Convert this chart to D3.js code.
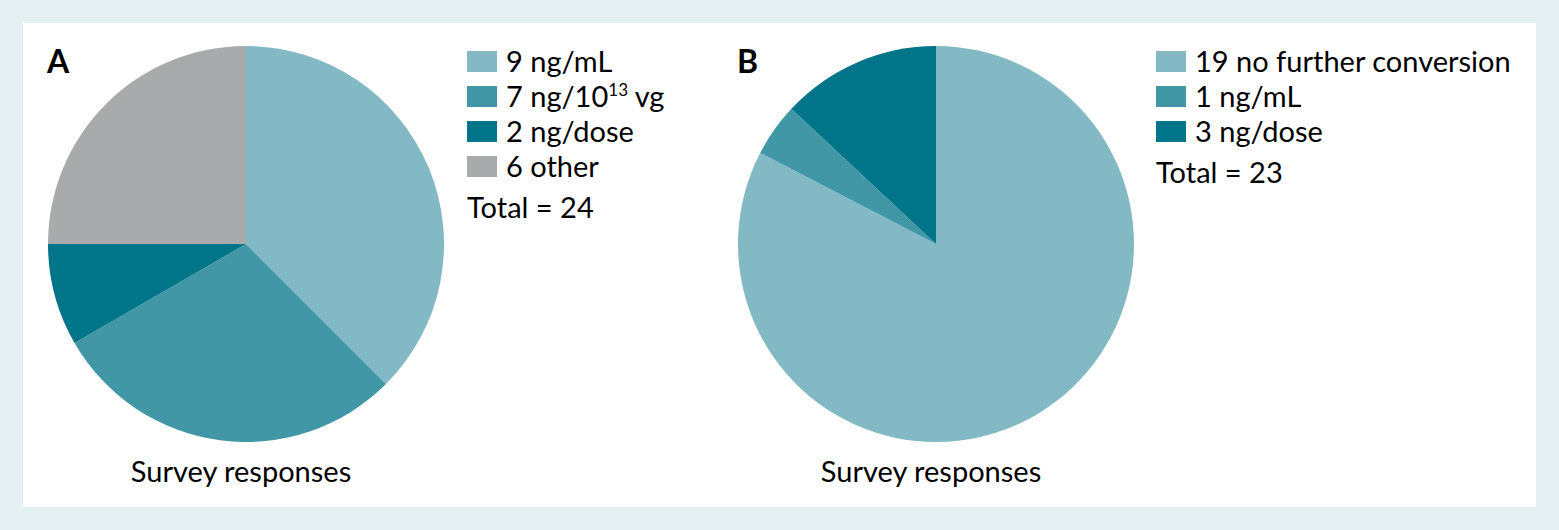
<!DOCTYPE html>
<html>
<head>
<meta charset="utf-8">
<script src="https://cdn.jsdelivr.net/npm/d3@7"></script>
<style>
  body { margin: 0; background: #e5f0f2; }
  svg { display: block; font-family: Lato, "Open Sans", sans-serif; }
</style>
</head>
<body>
<div id="chart"></div>
<script>
// Panel A data
let labelsA = ["9 ng/mL", "7 ng/10¹³ vg", "2 ng/dose", "6 other"];
let valuesA = [9, 7, 2, 6];
// Panel B data
let labelsB = ["19 no further conversion", "1 ng/mL", "3 ng/dose"];
let valuesB = [19, 1, 3];

let colors = ["#82b9c4", "#4297a7", "#007488", "#a9aaac"];

let width = 1559, height = 530;
let fontSize = 29;

let svg = d3.select("#chart").append("svg")
    .attr("width", width)
    .attr("height", height);

// white panel
svg.append("rect")
    .attr("x", 23)
    .attr("y", 23)
    .attr("width", 1513)
    .attr("height", 484)
    .attr("fill", "#ffffff");

// write a label, drawing superscript digits as small raised tspans
let supDigits = "⁰¹²³⁴⁵⁶⁷⁸⁹";
function writeLabel(sel, str) {
    let parts = str.split(/([⁰¹²³⁴⁵⁶⁷⁸⁹]+)/);
    let shift = 0;
    parts.forEach(p => {
        if (!p) return;
        if (/[⁰¹²³⁴⁵⁶⁷⁸⁹]/.test(p)) {
            let plain = p.split("").map(c => supDigits.indexOf(c)).join("");
            sel.append("tspan")
                .attr("dy", -11)
                .style("font-size", "17px")
                .text(plain);
            shift = 11;
        } else {
            sel.append("tspan").attr("dy", shift).text(p);
            shift = 0;
        }
    });
}

function drawPanel(letter, labels, values, cx, letterX, legendX) {
    let radius = 198, cy = 244;
    let g = svg.append("g").attr("transform", `translate(${cx},${cy})`);

    let pie = d3.pie().sort(null).value(d => d);
    let arc = d3.arc().innerRadius(0).outerRadius(radius);

    g.selectAll("path")
        .data(pie(values))
        .enter().append("path")
        .attr("d", arc)
        .attr("fill", (d, i) => colors[i]);

    svg.append("text")
        .attr("x", letterX)
        .attr("y", 73)
        .style("font-size", "32px")
        .style("font-weight", "bold")
        .text(letter);

    svg.append("text")
        .attr("x", cx - 5)
        .attr("y", 482)
        .attr("text-anchor", "middle")
        .style("font-size", fontSize + "px")
        .text("Survey responses");

    let legend = svg.append("g").attr("transform", `translate(${legendX},51)`);
    let rowH = 35;

    legend.selectAll("rect")
        .data(labels)
        .enter().append("rect")
        .attr("x", 0)
        .attr("y", (d, i) => i * rowH)
        .attr("width", 30)
        .attr("height", 21)
        .attr("fill", (d, i) => colors[i]);

    legend.selectAll("text.item")
        .data(labels)
        .enter().append("text")
        .attr("class", "item")
        .attr("x", 39)
        .attr("y", (d, i) => i * rowH + 21)
        .style("font-size", fontSize + "px")
        .each(function(d) { writeLabel(d3.select(this), d); });

    legend.append("text")
        .attr("x", 0)
        .attr("y", (labels.length - 1) * rowH + 62)
        .style("font-size", fontSize + "px")
        .text("Total = " + d3.sum(values));
}

drawPanel("A", labelsA, valuesA, 246, 47, 467);
drawPanel("B", labelsB, valuesB, 936, 737, 1156);
</script>
</body>
</html>
